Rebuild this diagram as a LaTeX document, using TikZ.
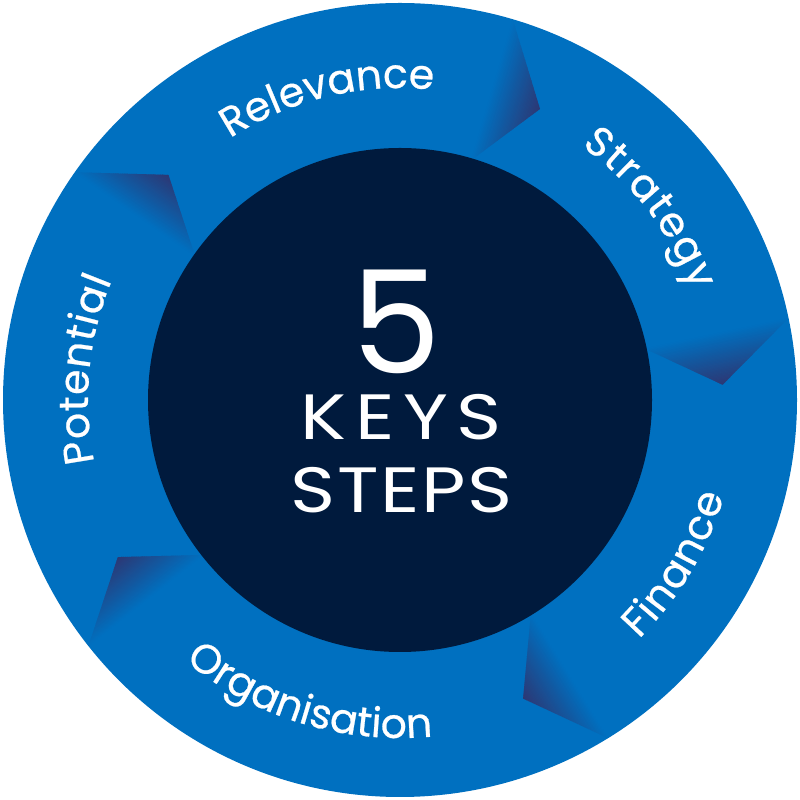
\documentclass[tikz,border=0pt]{standalone}
\usepackage{fontspec}
\setmainfont{Poppins}
\usetikzlibrary{decorations.text}
\definecolor{ringblue}{RGB}{0,112,192}
\definecolor{navy}{RGB}{0,26,61}
\definecolor{folddark}{RGB}{45,55,115}
\newfontfamily\ringfam[FakeBold=0.6]{Poppins}
\newcommand\ringfont{\ringfam\fontsize{41}{44}\selectfont}
\tikzset{
  ringlabel/.style={decorate,decoration={text along path,text align=fit to path,text color=white,text={|\ringfont|#1}}},
  centertext/.style={text=white,inner sep=0pt}
}
\begin{document}
\begin{tikzpicture}[x=1pt,y=1pt]
\useasboundingbox (0,0) rectangle (800,800);
\coordinate (c) at (400,400);
\fill[ringblue] (c) circle[radius=397];
\foreach \a in {73.5,11.9,-58.4,-141.7,145}{
  \begin{scope}[shift={(c)}, rotate=\a]
    \clip (250,0) -- (397,0) -- (318.8,-51.6) -- cycle;
    \foreach \i in {0,...,39}{
      \pgfmathsetmacro\p{(\i+0.5)*2.5}
      \fill[folddark!\p!ringblue] (240,{-\i*1.3}) rectangle (400,{-(\i+1)*1.3-0.4});
    }
  \end{scope}
}
\fill[navy] (c) circle[radius=252];
\path[ringlabel=Relevance] (c) ++(123:312) arc[start angle=123,end angle=85,radius=312];
\path[ringlabel=Strategy] (c) ++(54.5:312) arc[start angle=54.5,end angle=20.5,radius=312];
\path[ringlabel=Potential] (c) ++(191.5:312) arc[start angle=191.5,end angle=157.5,radius=312];
\path[ringlabel=Finance] (c) ++(-45:338) arc[start angle=-45,end angle=-16.5,radius=338];
\path[ringlabel=Organisation] (c) ++(-129.5:338) arc[start angle=-129.5,end angle=-84.5,radius=338];
\node[centertext,font=\fontsize{143}{143}\selectfont] (five) at (396,478) {5};
\node[centertext] (keys) at (397,383) {\scalebox{1.2}[1]{\fontsize{64}{64}\selectfont\addfontfeatures{LetterSpace=11}KEYS\kern-0.11em}};
\node[centertext] (steps) at (401,310) {\scalebox{1.2}[1]{\fontsize{64}{64}\selectfont\addfontfeatures{LetterSpace=2}STEPS\kern-0.02em}};
\end{tikzpicture}
\end{document}
